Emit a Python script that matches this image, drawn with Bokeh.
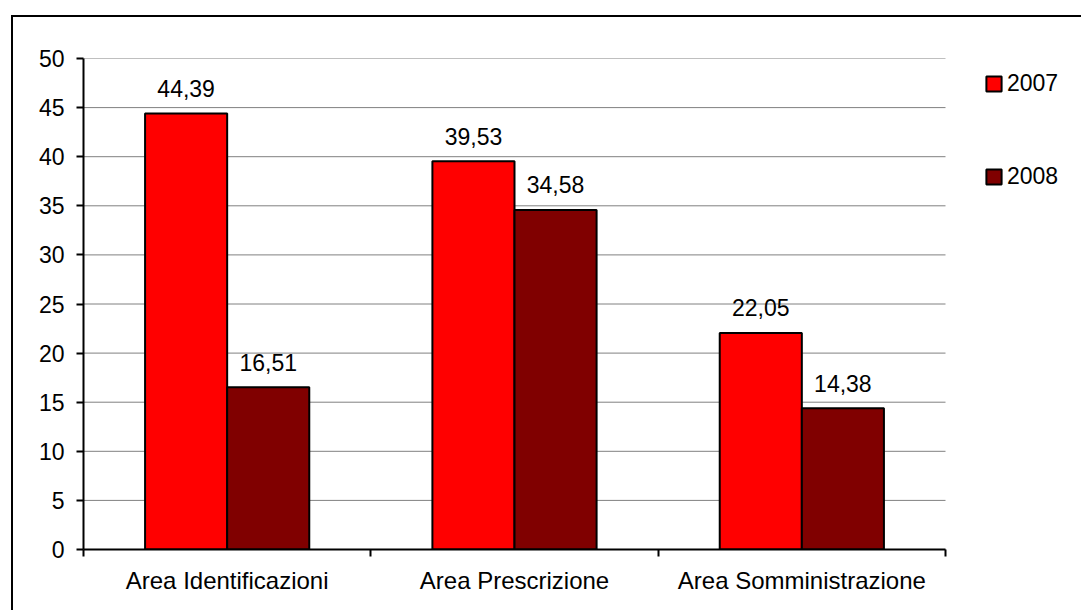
import numpy as np
from bokeh.plotting import figure
from bokeh.models import (ColumnDataSource, FixedTicker, Legend, LegendItem)
from bokeh.core.properties import value
from bokeh.embed import file_html
from bokeh.resources import INLINE

categories = ["Area Identificazioni", "Area Prescrizione", "Area Somministrazione"]
series_names = ["2007", "2008"]
values_2007 = [44.39, 39.53, 22.05]
values_2008 = [16.51, 34.58, 14.38]
y_ticks = [0, 5, 10, 15, 20, 25, 30, 35, 40, 45, 50]
colors = ["#FF0000", "#800000"]

FONT = "Liberation Sans"
FS = "23px"
FS_CAT = "24px"

W, H = 1070, 595
BL, BR, BT, BB = 70, 8, 41, 63
axis_px = 862            # pixel width of the category axis
frame_px = W - BL - BR
n = len(categories)
x_end = n * frame_px / axis_px

p = figure(width=W, height=H, output_backend="svg", toolbar_location=None,
           x_range=(0, x_end), y_range=(0, 50),
           min_border_left=BL, min_border_top=BT, min_border_right=BR,
           min_border_bottom=BB)
p.styles = {"border-left": "2px solid black", "border-top": "2px solid black",
            "margin-left": "11px", "margin-top": "15px"}
p.outline_line_alpha = 0
p.background_fill_color = "white"
p.border_fill_color = "white"

# gridlines limited to the category area
p.xgrid.grid_line_color = None
p.ygrid.grid_line_color = None
p.segment(x0=[0] * len(y_ticks), x1=[n] * len(y_ticks), y0=y_ticks, y1=y_ticks,
          line_color="#808080", line_width=1)

centers = np.arange(n) + 0.5
bw = 1 / 3.5
renderers = []
for k, (name, vals, col) in enumerate(zip(series_names, [values_2007, values_2008], colors)):
    xs = centers + (k - 0.5) * bw
    src = ColumnDataSource(dict(x=xs, top=vals,
                                lab=[f"{v:.2f}".replace(".", ",") for v in vals]))
    r = p.vbar(x="x", top="top", width=bw, source=src, fill_color=col,
               line_color="black", line_width=2)
    renderers.append(r)
    p.text(x="x", y="top", text="lab", source=src, text_align="center",
           text_baseline="alphabetic", y_offset=-25,
           text_font=value(FONT), text_font_size=FS, text_color="black")

# y axis
p.yaxis.ticker = FixedTicker(ticks=y_ticks)
p.yaxis.major_tick_out = 7
p.yaxis.major_tick_in = 0
p.yaxis.minor_tick_out = 0
p.yaxis.minor_tick_in = 0
p.yaxis.axis_line_width = 2
p.yaxis.major_tick_line_width = 2
p.yaxis.major_label_standoff = 12
p.yaxis.major_label_text_font = FONT
p.yaxis.major_label_text_font_size = FS
p.yaxis.major_label_text_color = "black"

# x axis: labels at centers, ticks at boundaries
p.xaxis.bounds = (0, n)
p.xaxis.ticker = FixedTicker(ticks=list(centers),
                             minor_ticks=list(np.arange(n + 1)))
p.xaxis.major_label_overrides = {float(c): cat for c, cat in zip(centers, categories)}
p.xaxis.major_tick_out = 0
p.xaxis.major_tick_in = 0
p.xaxis.minor_tick_out = 7
p.xaxis.minor_tick_in = 0
p.xaxis.minor_tick_line_width = 2
p.xaxis.axis_line_width = 2
p.xaxis.major_label_standoff = 10
p.xaxis.major_label_text_font = FONT
p.xaxis.major_label_text_font_size = FS_CAT
p.xaxis.major_label_text_color = "black"

legend = Legend(items=[LegendItem(label=s, renderers=[r]) for s, r in zip(series_names, renderers)],
                location=(901, 358), orientation="vertical",
                glyph_width=19, glyph_height=19, label_height=30, spacing=63,
                label_standoff=4, padding=0, margin=0, border_line_alpha=0,
                background_fill_alpha=0,
                label_text_font=FONT, label_text_font_size=FS, label_text_color="black")
p.add_layout(legend, "center")

open("out.html", "w").write(file_html(p, INLINE))
